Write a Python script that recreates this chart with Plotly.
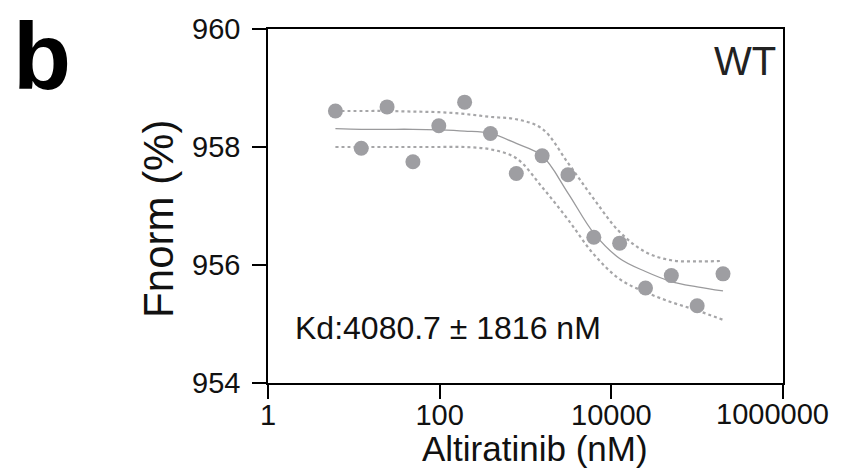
import plotly.graph_objects as go

# Altiratinib titration (nM) vs Fnorm
conc = [6.1, 12.2, 24.4, 48.8, 97.7, 195.3, 390.6, 781.3, 1562.5, 3125,
        6250, 12500, 25000, 50000, 100000, 200000]
fnorm = [958.61, 957.98, 958.68, 957.75, 958.36, 958.76, 958.23, 957.55,
         957.85, 957.53, 956.47, 956.37, 955.61, 955.82, 955.31, 955.85]

# fit curve and confidence band
fit_y = [958.31, 958.30, 958.30, 958.30, 958.29, 958.27, 958.23, 958.06,
         957.85, 957.22, 956.54, 956.11, 955.89, 955.72, 955.63, 955.56]
upper_y = [958.61, 958.61, 958.61, 958.60, 958.59, 958.56, 958.51, 958.47,
           958.31, 957.73, 957.12, 956.56, 956.22, 956.08, 956.06, 956.07]
lower_y = [958.00, 958.00, 958.00, 958.00, 958.00, 958.00, 957.96, 957.81,
           957.32, 956.77, 956.18, 955.76, 955.54, 955.37, 955.23, 955.07]

x_ticks = [1, 100, 10000, 1000000]
x_ticktext = ['1', '100', '10000', '']
last_tick_label = '1000000'   # drawn separately, nudged left so it stays on the page
y_ticks = [954, 956, 958, 960]

font_name = 'Liberation Sans, Arial, sans-serif'
band_col = '#a6a6a8'

fig = go.Figure()
fig.add_trace(go.Scatter(x=conc, y=upper_y, mode='lines', line_shape='spline',
                         line=dict(color=band_col, width=2.2, dash='dot')))
fig.add_trace(go.Scatter(x=conc, y=lower_y, mode='lines', line_shape='spline',
                         line=dict(color=band_col, width=2.2, dash='dot')))
fig.add_trace(go.Scatter(x=conc, y=fit_y, mode='lines', line_shape='spline',
                         line=dict(color='#9a9a9c', width=1.3)))
fig.add_trace(go.Scatter(x=conc, y=fnorm, mode='markers',
                         marker=dict(color='#9e9ea2', size=15)))

axis_common = dict(ticks='outside', ticklen=14, tickwidth=1.5, tickcolor='black',
                   showline=True, linecolor='black', linewidth=1.5, mirror=True,
                   showgrid=False, zeroline=False, automargin=False,
                   tickfont=dict(size=29, color='#111111'))

# page body has an 8px margin, so the figure is 8px smaller on each side
fig.update_layout(
    width=833, height=465,
    margin=dict(l=260, r=58, t=21, b=90),
    paper_bgcolor='white', plot_bgcolor='white',
    showlegend=False,
    font=dict(family=font_name, color='#111111'),
    xaxis=dict(type='log', range=[0, 6], tickvals=x_ticks, ticktext=x_ticktext,
               ticklabelstandoff=-9, **axis_common),
    yaxis=dict(range=[954, 960], tickvals=y_ticks, ticklabelstandoff=6, **axis_common),
)

fig.add_annotation(text=last_tick_label, xref='x', yref='paper', x=6, y=-0.088,
                   xanchor='center', yanchor='middle', xshift=-11, showarrow=False,
                   font=dict(size=29, color='#111111'))

# axis titles
fig.add_annotation(text='Altiratinib (nM)', xref='paper', yref='paper', x=0.519, y=-0.184,
                   xanchor='center', yanchor='middle', showarrow=False,
                   font=dict(size=35))
fig.add_annotation(text='Fnorm (%)', xref='paper', yref='paper', x=-0.214, y=0.463,
                   xanchor='center', yanchor='middle', showarrow=False, textangle=-90,
                   font=dict(size=42))

fig.add_annotation(text='WT', xref='paper', yref='paper', x=0.991, y=0.91,
                   xanchor='right', yanchor='middle', showarrow=False,
                   font=dict(size=40, color='#222222'))
fig.add_annotation(text='Kd:4080.7 ± 1816 nM', xref='paper', yref='paper',
                   x=0.049, y=0.154, xanchor='left', yanchor='middle', showarrow=False,
                   font=dict(size=32, color='#111111'))
fig.add_annotation(text='<b>b</b>', xref='paper', yref='paper', x=-0.5, y=0.924,
                   xanchor='left', yanchor='middle', showarrow=False,
                   font=dict(size=95, color='black'))

fig.write_html("out.html")
